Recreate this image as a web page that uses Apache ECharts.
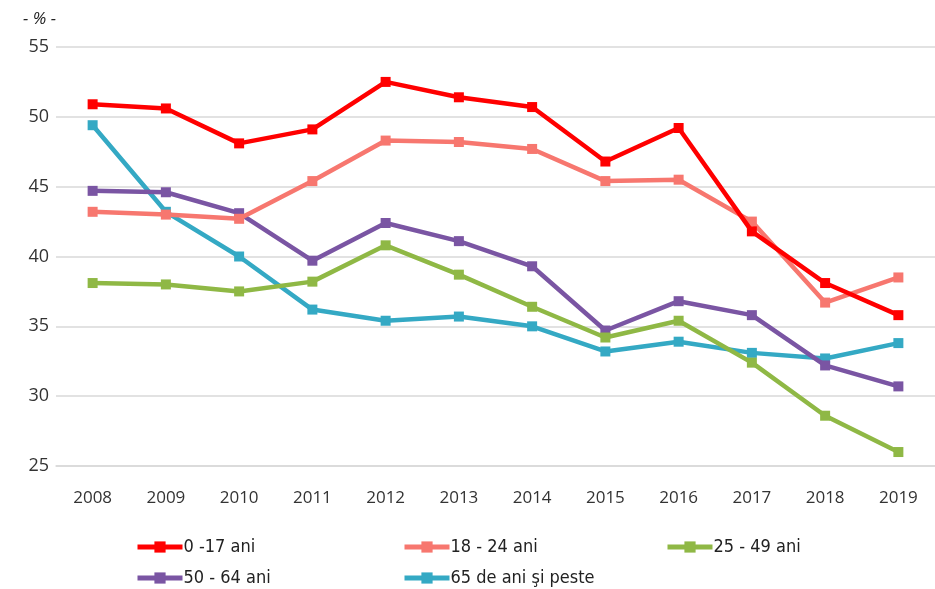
<!DOCTYPE html>
<html><head><meta charset="utf-8">
<script src="https://cdn.jsdelivr.net/npm/echarts@6/dist/echarts.min.js"></script>
<style>html,body{margin:0;padding:0;background:#fff}#c{width:935px;height:589px}</style>
</head><body><div id="c"></div>
<script>
const years = ['2008','2009','2010','2011','2012','2013','2014','2015','2016','2017','2018','2019'];
const seriesNames = ['0 -17 ani','18 - 24 ani','25 - 49 ani','50 - 64 ani','65 de ani şi peste'];
const v0_17 = [50.9,50.6,48.1,49.1,52.5,51.4,50.7,46.8,49.2,41.8,38.1,35.8];
const v18_24 = [43.2,43.0,42.7,45.4,48.3,48.2,47.7,45.4,45.5,42.5,36.7,38.5];
const v25_49 = [38.1,38.0,37.5,38.2,40.8,38.7,36.4,34.2,35.4,32.4,28.6,26.0];
const v50_64 = [44.7,44.6,43.1,39.7,42.4,41.1,39.3,34.7,36.8,35.8,32.2,30.7];
const v65 = [49.4,43.2,40.0,36.2,35.4,35.7,35.0,33.2,33.9,33.1,32.7,33.8];
const colors = ['#FF0000','#F7776F','#8FB845','#7A55A3','#34A9C4'];
const values = [v0_17, v18_24, v25_49, v50_64, v65];
const yTicks = [25,30,35,40,45,50,55];

const legendPos = [[135,538],[402,538],[665,538],[135,569],[402,569]];
const legendFont = "'DejaVu Sans Condensed','Liberation Sans Narrow','Roboto Condensed','Roboto',sans-serif";

const chart = echarts.init(document.getElementById('c'), null, {renderer:'canvas'});
chart.setOption({
  animation:false,
  backgroundColor:'#fff',
  color: colors,
  title:{text:'- % -', left:23, top:11, padding:0, textStyle:{fontSize:17, fontWeight:'normal', fontStyle:'italic', color:'#222', fontFamily:"'Open Sans',sans-serif"}},
  grid:{left:56, top:47, width:884, height:419, containLabel:false},
  xAxis:{type:'category', data:years, boundaryGap:true,
    axisLine:{show:true, lineStyle:{color:'#d9d9d9', width:1.5}},
    axisTick:{show:false},
    axisLabel:{color:'#333', fontSize:17, margin:24, fontFamily:"'Open Sans',sans-serif"}},
  yAxis:{type:'value', min:yTicks[0], max:yTicks[yTicks.length-1], interval:5,
    axisLine:{show:false}, axisTick:{show:false},
    splitLine:{lineStyle:{color:'#d9d9d9', width:1.5}},
    axisLabel:{color:'#333', fontSize:18, margin:7, fontFamily:"'Open Sans',sans-serif"}},
  legend: seriesNames.map((n,i)=>({
    data:[n], left:legendPos[i][0], top:legendPos[i][1], padding:0,
    itemWidth:45, itemHeight:14, itemGap:0,
    lineStyle:{width:5},
    textStyle:{fontSize:18, color:'#222', fontFamily:legendFont, padding:[0,0,0,-4]}
  })),
  series: seriesNames.map((n,i)=>({
    name:n, type:'line', data:values[i],
    symbol:'rect', symbolSize:10, showSymbol:true,
    lineStyle:{width:4.5, color:colors[i]},
    itemStyle:{color:colors[i]},
    z: 10-i
  }))
});
</script></body></html>
